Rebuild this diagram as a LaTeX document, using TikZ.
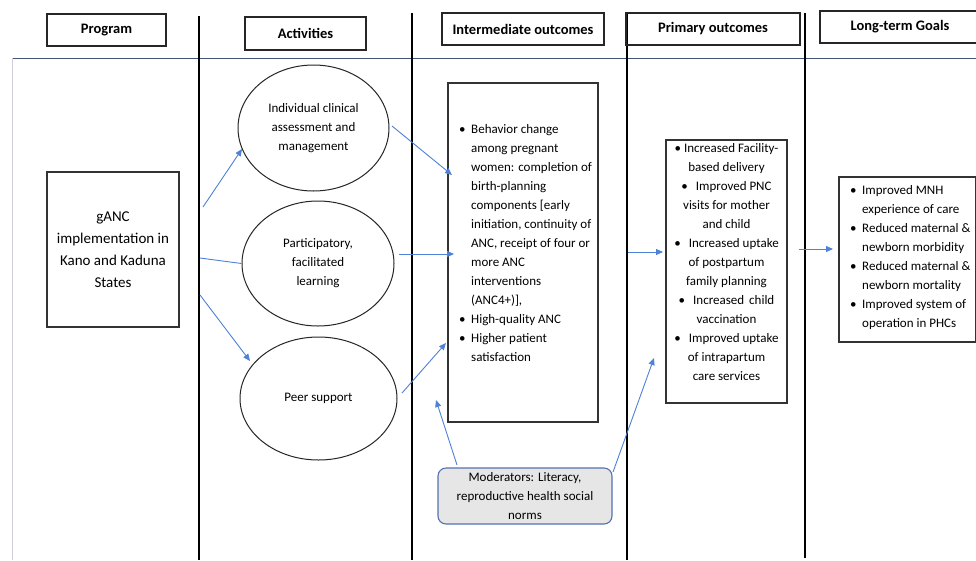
\documentclass[tikz,border=0pt]{standalone}
\usepackage{fontspec}
\setmainfont{Carlito}
\usetikzlibrary{arrows.meta,shapes.geometric}
\definecolor{arr}{RGB}{79,129,215}
\definecolor{hline}{RGB}{68,84,120}
\definecolor{lline}{RGB}{205,205,222}
\definecolor{modfill}{RGB}{231,230,230}
\definecolor{modedge}{RGB}{84,114,176}
\newcommand{\bul}{\makebox[12pt][l]{\textbullet}}
\newcommand{\ind}{\hspace*{12pt}}
\begin{document}
\begin{tikzpicture}[x=1pt,y=-1pt,
  hdr/.style={draw=black!85, line width=1.1pt, inner sep=0pt, font=\fontsize{14.5}{17}\selectfont\bfseries},
  box/.style={draw=black!80, line width=1.2pt, inner sep=0pt},
  ell/.style={draw=black!85, line width=1pt, ellipse, inner sep=0pt, align=center, font=\fontsize{13}{19}\selectfont},
  txt/.style={inner sep=0pt, font=\fontsize{13}{19}\selectfont},
  sep/.style={line width=2.6pt, black},
  con/.style={draw=arr, line width=0.9pt},
  arw/.style={con, -{Triangle[length=7pt,width=6pt]}}]
\useasboundingbox (0,0) rectangle (976,560);
\fill[white] (0,0) rectangle (976,560);

% frame lines
\draw[hline, line width=1pt] (12,58) -- (976,58);
\draw[lline, line width=1pt] (12,58) -- (12,560);
\draw[sep] (199,16) -- (199,560);
\draw[sep] (412,13) -- (412,560);
\draw[sep] (627,13) -- (627,560);
\draw[sep] (805,13) -- (805,558);

% headers
\node[hdr, minimum width=119pt, minimum height=32pt] (hprog) at (106.5,30) {Program};
\node[hdr, minimum width=121pt, minimum height=33pt] (hact) at (305.5,33.5) {Activities};
\node[hdr, minimum width=162pt, minimum height=32pt] (hint) at (523,29) {Intermediate outcomes};
\node[hdr, minimum width=174pt, minimum height=32pt] (hprim) at (713,29) {Primary outcomes};
\node[hdr, minimum width=160pt, minimum height=32pt] (hlong) at (900,27) {Long-term Goals};

% program box
\node[box, minimum width=132pt, minimum height=155pt, align=center,
      font=\fontsize{15}{22}\selectfont] (prog) at (113,249.5)
  {gANC\\implementation in\\Kano and Kaduna\\States};

% activities
\node[ell, minimum width=151pt, minimum height=126pt] (e1) at (313.5,128)
  {Individual clinical\\assessment and\\management};
\node[ell, minimum width=152pt, minimum height=125pt] (e2) at (318,263.5)
  {Participatory,\\facilitated\\learning};
\node[ell, minimum width=157pt, minimum height=123pt] (e3) at (318.5,398.5)
  {Peer support};

% intermediate outcomes
\node[box, minimum width=150pt, minimum height=339pt] (inter) at (523,252.5) {};
\node[txt, anchor=west, align=left] (intertxt) at (459,243.5)
  {\bul Behavior change\\
   \ind among pregnant\\
   \ind women: completion of\\
   \ind birth-planning\\
   \ind components [early\\
   \ind initiation, continuity of\\
   \ind ANC, receipt of four or\\
   \ind more ANC\\
   \ind interventions\\
   \ind (ANC4+)],\\
   \bul High-quality ANC\\
   \bul Higher patient\\
   \ind satisfaction};

% primary outcomes
\node[box, minimum width=121pt, minimum height=263pt] (prim) at (726.5,271.5) {};
\node[txt, align=center] (primtxt) at (726.5,262.5)
  {\textbullet\ Increased Facility-\\
   based delivery\\
   \textbullet\hspace{8pt}Improved PNC\\
   visits for mother\\
   and child\\
   \textbullet\hspace{8pt}Increased uptake\\
   of postpartum\\
   family planning\\
   \textbullet\hspace{8pt}Increased\hspace{5pt}child\\
   vaccination\\
   \textbullet\hspace{8pt}Improved uptake\\
   of intrapartum\\
   care services};

% long-term goals
\node[box, minimum width=137pt, minimum height=165pt] (longb) at (907.5,259.5) {};
\node[txt, anchor=west, align=left] (longtxt) at (850,257.5)
  {\bul Improved MNH\\
   \ind experience of care\\
   \bul Reduced maternal \&\\
   \ind newborn morbidity\\
   \bul Reduced maternal \&\\
   \ind newborn mortality\\
   \bul Improved system of\\
   \ind operation in PHCs};

% moderators
\node[draw=modedge, fill=modfill, line width=1.1pt, rounded corners=8pt,
      minimum width=174pt, minimum height=56pt, inner sep=0pt, align=center,
      font=\fontsize{13}{19}\selectfont] (mod) at (525,496)
  {Moderators: Literacy,\\reproductive health social\\norms};

% connector end points
\coordinate (s1) at (203,207);
\coordinate (t1) at (242,149);
\coordinate (s2) at (200,258);
\coordinate (s3) at (200,295);
\coordinate (t3) at (250,361);
\coordinate (s4) at (392,126);
\coordinate (t4) at (452,175);
\coordinate (s5) at (399,254);
\coordinate (t5) at (454,254);
\coordinate (s6) at (402,393);
\coordinate (t6) at (446,343);
\coordinate (s7) at (457,465);
\coordinate (t7) at (436,400);
\coordinate (s8) at (613,472);
\coordinate (t8) at (654,358);
\coordinate (s9) at (628,252);
\coordinate (t9) at (663,252);
\coordinate (s10) at (799,249);
\coordinate (t10) at (833,249);

\draw[arw] (s1) -- (t1);
\draw[con] (s2) -- (e2.west);
\draw[arw] (s3) -- (t3);
\draw[arw] (s4) -- (t4);
\draw[arw] (s5) -- (t5);
\draw[arw] (s6) -- (t6);
\draw[arw] (s7) -- (t7);
\draw[arw] (s8) -- (t8);
\draw[arw] (s9) -- (t9);
\draw[arw] (s10) -- (t10);
\end{tikzpicture}
\end{document}
